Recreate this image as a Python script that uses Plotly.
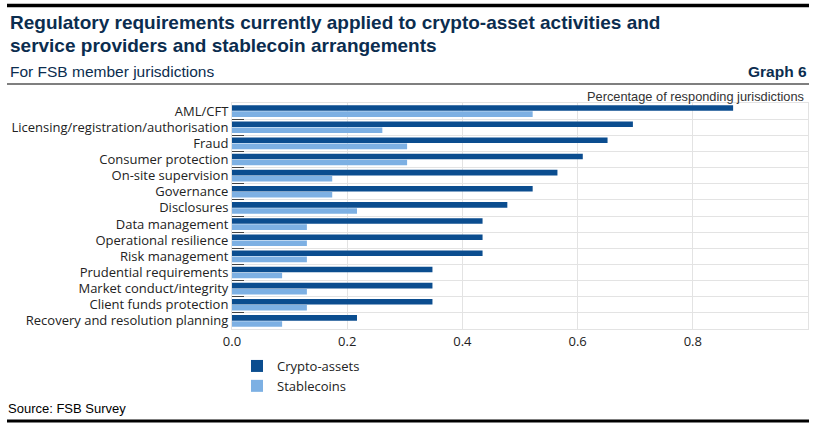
import plotly.graph_objects as go

categories = [
    "AML/CFT",
    "Licensing/registration/authorisation",
    "Fraud",
    "Consumer protection",
    "On-site supervision",
    "Governance",
    "Disclosures",
    "Data management",
    "Operational resilience",
    "Risk management",
    "Prudential requirements",
    "Market conduct/integrity",
    "Client funds protection",
    "Recovery and resolution planning",
]
crypto_assets = [0.870, 0.696, 0.652, 0.609, 0.565, 0.522, 0.478, 0.435, 0.435, 0.435, 0.348, 0.348, 0.348, 0.217]
stablecoins = [0.522, 0.261, 0.304, 0.304, 0.174, 0.174, 0.217, 0.130, 0.130, 0.130, 0.087, 0.130, 0.130, 0.087]
x_ticks = [0.0, 0.2, 0.4, 0.6, 0.8]

W, H = 821, 427
L, R, T, B = 232, 808, 103, 329


def px(p):
    return (p - L) / (R - L)


def py(p):
    return (B - p) / (B - T)


AX_FONT = "Open Sans, Noto Sans, sans-serif"
HEAD_FONT = "Liberation Sans, Arial, sans-serif"
NAVY = "#0b2d4f"

fig = go.Figure()
fig.add_trace(go.Bar(
    y=categories, x=crypto_assets, orientation="h", name="Crypto-assets",
    marker=dict(color="#0b4d8f", line=dict(width=0)),
))
fig.add_trace(go.Bar(
    y=categories, x=stablecoins, orientation="h", name="Stablecoins",
    marker=dict(color="#7db0e3", line=dict(width=0)),
))

annotations = [
    dict(text="<b>Regulatory requirements currently applied to crypto-asset activities and</b>",
         x=px(8), y=py(22), xanchor="left", yanchor="middle",
         font=dict(family=HEAD_FONT, size=19, color=NAVY)),
    dict(text="<b>service providers and stablecoin arrangements</b>",
         x=px(8), y=py(45), xanchor="left", yanchor="middle",
         font=dict(family=HEAD_FONT, size=19, color=NAVY)),
    dict(text="For FSB member jurisdictions",
         x=px(8), y=py(71), xanchor="left", yanchor="middle",
         font=dict(family=HEAD_FONT, size=15.5, color=NAVY)),
    dict(text="<b>Graph 6</b>",
         x=px(809), y=py(71), xanchor="right", yanchor="middle",
         font=dict(family=HEAD_FONT, size=15.5, color=NAVY)),
    dict(text="Percentage of responding jurisdictions",
         x=px(806), y=py(97), xanchor="right", yanchor="middle",
         font=dict(family=HEAD_FONT, size=12.8, color="#333333")),
    dict(text="Source: FSB Survey",
         x=px(6), y=py(408), xanchor="left", yanchor="middle",
         font=dict(family=HEAD_FONT, size=13, color="#000000")),
]
for a in annotations:
    a.update(xref="paper", yref="paper", showarrow=False)

shapes = [
    dict(type="line", x0=px(7), x1=px(809), y0=py(5.5), y1=py(5.5),
         line=dict(color="black", width=3.5)),
    dict(type="line", x0=px(7), x1=px(809), y0=py(84), y1=py(84),
         line=dict(color="black", width=1.2)),
    dict(type="line", x0=px(7), x1=px(809), y0=py(421), y1=py(421),
         line=dict(color="black", width=3)),
]
for s in shapes:
    s.update(xref="paper", yref="paper")

fig.update_layout(
    width=W, height=H,
    margin=dict(l=L, r=W - R, t=T, b=H - B, pad=0),
    paper_bgcolor="white", plot_bgcolor="white",
    barmode="group", bargap=0.25, bargroupgap=0.08,
    font=dict(family=AX_FONT, size=13, color="#222222"),
    showlegend=True,
    legend=dict(x=px(237), y=py(351), xanchor="left", yanchor="top",
                orientation="v", tracegroupgap=0,
                font=dict(family=AX_FONT, size=13, color="#222222"),
                bgcolor="rgba(0,0,0,0)"),
    annotations=annotations,
    shapes=shapes,
)
fig.update_xaxes(
    range=[0, 1.0], tickvals=x_ticks, tickformat=".1f",
    showgrid=True, gridcolor="#e3e3e3", gridwidth=1,
    showline=True, linecolor="#e3e3e3", mirror=True,
    ticks="", zeroline=False,
    tickfont=dict(family=AX_FONT, size=13, color="#222222"),
)
fig.update_yaxes(
    categoryorder="array", categoryarray=categories, autorange="reversed",
    tickson="boundaries", ticks="inside", ticklen=12, tickcolor="#444444", tickwidth=1,
    showgrid=True, gridcolor="#e3e3e3", gridwidth=1,
    showline=True, linecolor="#e3e3e3", mirror=True,
    tickfont=dict(family=AX_FONT, size=13, color="#222222"),
)

fig.write_html(
    "out.html",
    config=dict(displayModeBar=False),
    post_script="document.body.style.margin='0';document.body.style.overflow='hidden';",
)
